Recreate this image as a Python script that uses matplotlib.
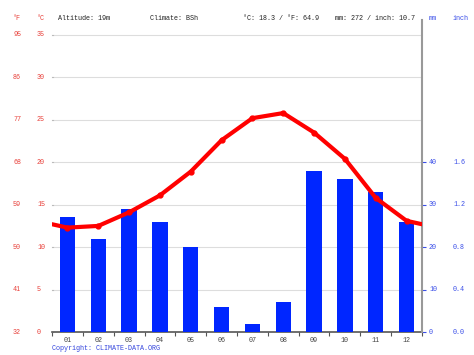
import matplotlib
matplotlib.use("Agg")
import matplotlib.pyplot as plt

months = ["01", "02", "03", "04", "05", "06", "07", "08", "09", "10", "11", "12"]
temp_c = [12.3, 12.5, 14.1, 16.1, 18.9, 22.6, 25.2, 25.8, 23.5, 20.4, 15.8, 13.1]
precip_mm = [27, 22, 29, 26, 20, 6, 2, 7, 38, 36, 33, 26]
c_ticks = [0, 5, 10, 15, 20, 25, 30, 35]
f_labels = ["32", "41", "50", "59", "68", "77", "86", "95"]
mm_ticks = [0, 10, 20, 30, 40]
inch_labels = ["0.0", "0.4", "0.8", "1.2", "1.6"]

W, H = 474, 355
RED = "#e8403a"
BLUE = "#3a4ee8"
MONO = "Liberation Mono"
FS = 4.9

fig = plt.figure(figsize=(W / 100, H / 100), dpi=100)
# axes spans the plot region; top extends a little above 35 °C
left, right, bottom, top = 52, 422, 332, 20
ax = fig.add_axes([left / W, (H - bottom) / H, (right - left) / W, (bottom - top) / H])
ymax = 35 * (bottom - top) / (bottom - 35)
ax.set_ylim(0, ymax)
ax.set_xlim(0.5, 12.5)

ax2 = ax.twinx()
ax2.set_ylim(0, ymax * 2)

x = list(range(1, 13))
ax2.bar(x, precip_mm, width=0.5, color="#0026ff", zorder=2)

# temperature line, continued to the edges with the Dec/Jan mean
edge = (temp_c[0] + temp_c[-1]) / 2
ax2.plot([0.5] + x + [12.5], [2 * v for v in [edge] + temp_c + [edge]],
         color="#ff0000", lw=3, solid_capstyle="round", zorder=3)
ax2.plot(x, [2 * v for v in temp_c], "o", color="#ff0000", ms=3.5, zorder=3)

for c in c_ticks:
    ax.axhline(c, color="#dddddd", lw=0.8, zorder=0)

for a in (ax, ax2):
    for s in a.spines.values():
        s.set_visible(False)
    a.set_yticks([])

ax.spines["bottom"].set_visible(True)
ax.spines["bottom"].set_color("#555555")
ax.spines["bottom"].set_linewidth(1.2)
ax2.spines["right"].set_visible(True)
ax2.spines["right"].set_color("#999999")
ax2.spines["right"].set_linewidth(1.5)

ax.set_xticks([i + 0.5 for i in range(0, 13)])
ax.set_xticklabels([])
ax.tick_params(axis="x", length=3, color="#555555", width=0.8)
px = ax.get_ylim()[1] / (bottom - top)  # data units per pixel
for i, m in enumerate(months):
    ax.text(i + 1, -8 * px, m, ha="center", va="center", fontsize=FS,
            family=MONO, color="#444444", clip_on=False)

ax2.set_yticks(mm_ticks)
ax2.set_yticklabels([])
ax2.tick_params(axis="y", length=3, color=BLUE, width=0.8)

# left axis labels (°F and °C)
tr = ax.get_yaxis_transform()
for c, f in zip(c_ticks, f_labels):
    ax.text((37 - left) / (right - left), c, str(c), transform=tr, ha="left",
            va="center", fontsize=FS, family=MONO, color=RED)
    ax.text((13 - left) / (right - left), c, f, transform=tr, ha="left",
            va="center", fontsize=FS, family=MONO, color=RED)
    ax.plot([(53 - left) / (right - left), 0], [c, c], transform=tr,
            color="#bbbbbb", lw=0.8, clip_on=False)

tr2 = ax2.get_yaxis_transform()
for mm, inch in zip(mm_ticks, inch_labels):
    ax2.text((429 - left) / (right - left), mm, str(mm), transform=tr2,
             ha="left", va="center", fontsize=FS, family=MONO, color=BLUE)
    ax2.text((453 - left) / (right - left), mm, inch, transform=tr2,
             ha="left", va="center", fontsize=FS, family=MONO, color=BLUE)

# header
hy = 1 - 19 / H
header = [(13, "°F", RED), (37, "°C", RED), (58, "Altitude: 19m", "#222222"),
          (150, "Climate: BSh", "#222222"),
          (243, "°C: 18.3 / °F: 64.9", "#222222"),
          (335, "mm: 272 / inch: 10.7", "#222222"),
          (429, "mm", BLUE), (453, "inch", BLUE)]
for hx, s, col in header:
    fig.text(hx / W, hy, s, ha="left", va="center", fontsize=FS,
             family=MONO, color=col)

fig.text(52 / W, 1 - 348 / H, "Copyright: CLIMATE-DATA.ORG", ha="left",
         va="center", fontsize=FS, family=MONO, color="#3344dd")

fig.savefig("out.png", dpi=100)
